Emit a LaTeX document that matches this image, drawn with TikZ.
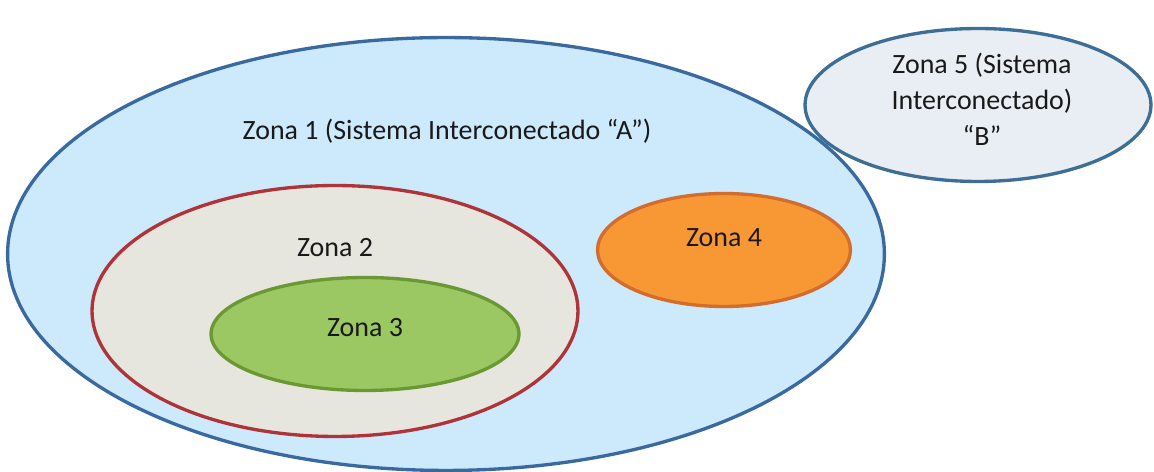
\documentclass[tikz,border=0pt]{standalone}
\usepackage{fontspec}
\setmainfont{Carlito}
\usepackage{xcolor}
\definecolor{colorZoneA}{RGB}{205,233,252}
\definecolor{colorZoneAline}{RGB}{58,105,160}
\definecolor{colorZoneB}{RGB}{230,230,222}
\definecolor{colorZoneBline}{RGB}{175,52,58}
\definecolor{colorZoneC}{RGB}{155,200,98}
\definecolor{colorZoneCline}{RGB}{108,152,52}
\definecolor{colorZoneD}{RGB}{248,152,52}
\definecolor{colorZoneDline}{RGB}{212,108,45}
\definecolor{colorZoneE}{RGB}{232,238,243}
\definecolor{colorZoneEline}{RGB}{60,110,150}
\usetikzlibrary{shapes.geometric}
\tikzset{zone/.style={ellipse, inner sep=0pt, line width=1.9pt},
  zonetext/.style={font=\fontsize{15.9}{20.5}\selectfont, text=black!90, align=center}}

\begin{document}
\begin{tikzpicture}[x=0.02cm, y=-0.02cm]
\useasboundingbox (0,0) rectangle (1154,472);
\node[zone, draw=colorZoneAline, fill=colorZoneA, minimum width=17.54cm, minimum height=8.66cm] (z1) at (446,254) {};
\node[zone, draw=colorZoneBline, fill=colorZoneB, minimum width=9.72cm, minimum height=5.02cm] (z2) at (335,311) {};
\node[zone, draw=colorZoneCline, fill=colorZoneC, minimum width=6.16cm, minimum height=2.26cm] (z3) at (365,334) {};
\node[zone, draw=colorZoneDline, fill=colorZoneD, minimum width=5.06cm, minimum height=2.26cm] (z4) at (724,250) {};
\node[zone, draw=colorZoneEline, fill=colorZoneE, minimum width=6.92cm, minimum height=3.06cm] (z5) at (978,105) {};
\node[zonetext] (t1) at (447,131) {Zona 1 (Sistema Interconectado “A”)};
\node[zonetext] (t2) at (335,248) {Zona 2};
\node[zonetext] (t3) at (365,328) {Zona 3};
\node[zonetext] (t4) at (724,238) {Zona 4};
\node[zonetext] (t5) at (982,99) {Zona 5 (Sistema\\Interconectado)\\“B”};
\end{tikzpicture}
\end{document}
